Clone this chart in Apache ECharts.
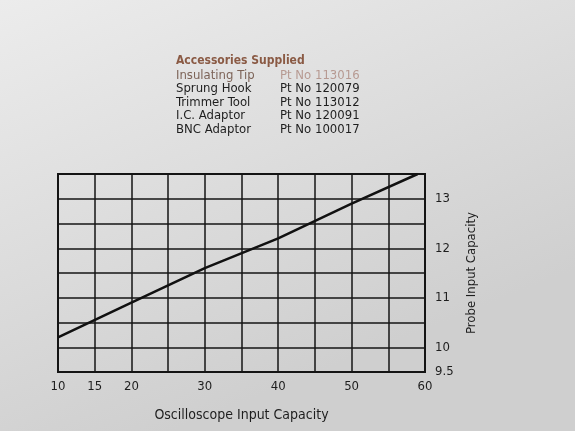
<!DOCTYPE html>
<html>
<head>
<meta charset="utf-8">
<script src="https://cdn.jsdelivr.net/npm/echarts@6/dist/echarts.min.js"></script>
<style>
  html, body { margin: 0; padding: 0; }
  #chart { width: 575px; height: 431px; }
</style>
</head>
<body>
<div id="chart"></div>
<script>
// accessories table printed above the graph
var accessoryNames = ['Insulating Tip', 'Sprung Hook', 'Trimmer Tool', 'I.C. Adaptor', 'BNC Adaptor'];
var partNumbers = ['Pt No 113016', 'Pt No 120079', 'Pt No 113012', 'Pt No 120091', 'Pt No 100017'];

// which ticks get a printed label
var xLabels = [10, 15, 20, 30, 40, 50, 60];
var yLabels = [9.5, 10, 11, 12, 13];

// the curve: oscilloscope capacity -> probe capacity
var scopeCap = [10, 20, 30, 40, 50, 59];
var probeCap = [10.2, 10.9, 11.6, 12.2, 12.9, 13.5];

var font = "'Liberation Sans Narrow', 'DejaVu Sans Condensed', sans-serif";
var chart = echarts.init(document.getElementById('chart'));

var graphics = [{
    type: 'text', left: 176, top: 55,
    style: { text: 'Accessories Supplied', font: 'bold 12px ' + font, fill: '#8a5a44' }
}];
accessoryNames.forEach(function (name, i) {
    var faded = i === 0;
    graphics.push({
        type: 'text', left: 176, top: 69 + i * 13.5,
        style: { text: name, font: '13px ' + font, fill: faded ? '#7d6458' : '#1e1e1e' }
    });
    graphics.push({
        type: 'text', left: 280, top: 69 + i * 13.5,
        style: { text: partNumbers[i], font: '13px ' + font, fill: faded ? '#b79a92' : '#1e1e1e' }
    });
});

chart.setOption({
    backgroundColor: {
        type: 'linear', x: 0, y: 0, x2: 0.3, y2: 1,
        colorStops: [{ offset: 0, color: '#ececec' }, { offset: 1, color: '#cfcfcf' }]
    },
    graphic: graphics,
    grid: {
        left: 58, right: 150, top: 174, bottom: 59,
        show: true, borderColor: '#151515', borderWidth: 2
    },
    xAxis: {
        type: 'value', min: 10, max: 60, interval: 5,
        name: 'Oscilloscope Input Capacity',
        nameLocation: 'middle', nameGap: 36,
        nameTextStyle: { fontFamily: font, fontSize: 14, color: '#1e1e1e' },
        axisLine: { show: false },
        axisTick: { show: false },
        axisLabel: {
            margin: 8, fontFamily: font, fontSize: 13, color: '#1e1e1e',
            formatter: function (v) { return xLabels.indexOf(v) >= 0 ? String(v) : ''; }
        },
        splitLine: { lineStyle: { color: '#151515', width: 1.5 } }
    },
    yAxis: {
        type: 'value', min: 9.5, max: 13.5, interval: 0.5,
        position: 'right',
        name: 'Probe Input Capacity',
        nameLocation: 'middle', nameGap: 40, nameRotate: 90,
        nameTextStyle: { fontFamily: font, fontSize: 13, color: '#1e1e1e' },
        axisLine: { show: false },
        axisTick: { show: false },
        axisLabel: {
            margin: 10, fontFamily: font, fontSize: 13, color: '#1e1e1e',
            formatter: function (v) { return yLabels.indexOf(v) >= 0 ? String(v) : ''; }
        },
        splitLine: { lineStyle: { color: '#151515', width: 1.5 } }
    },
    series: [{
        type: 'line',
        data: scopeCap.map(function (x, i) { return [x, probeCap[i]]; }),
        symbol: 'none',
        animation: false,
        lineStyle: { color: '#111', width: 2.5 }
    }]
});
</script>
</body>
</html>
